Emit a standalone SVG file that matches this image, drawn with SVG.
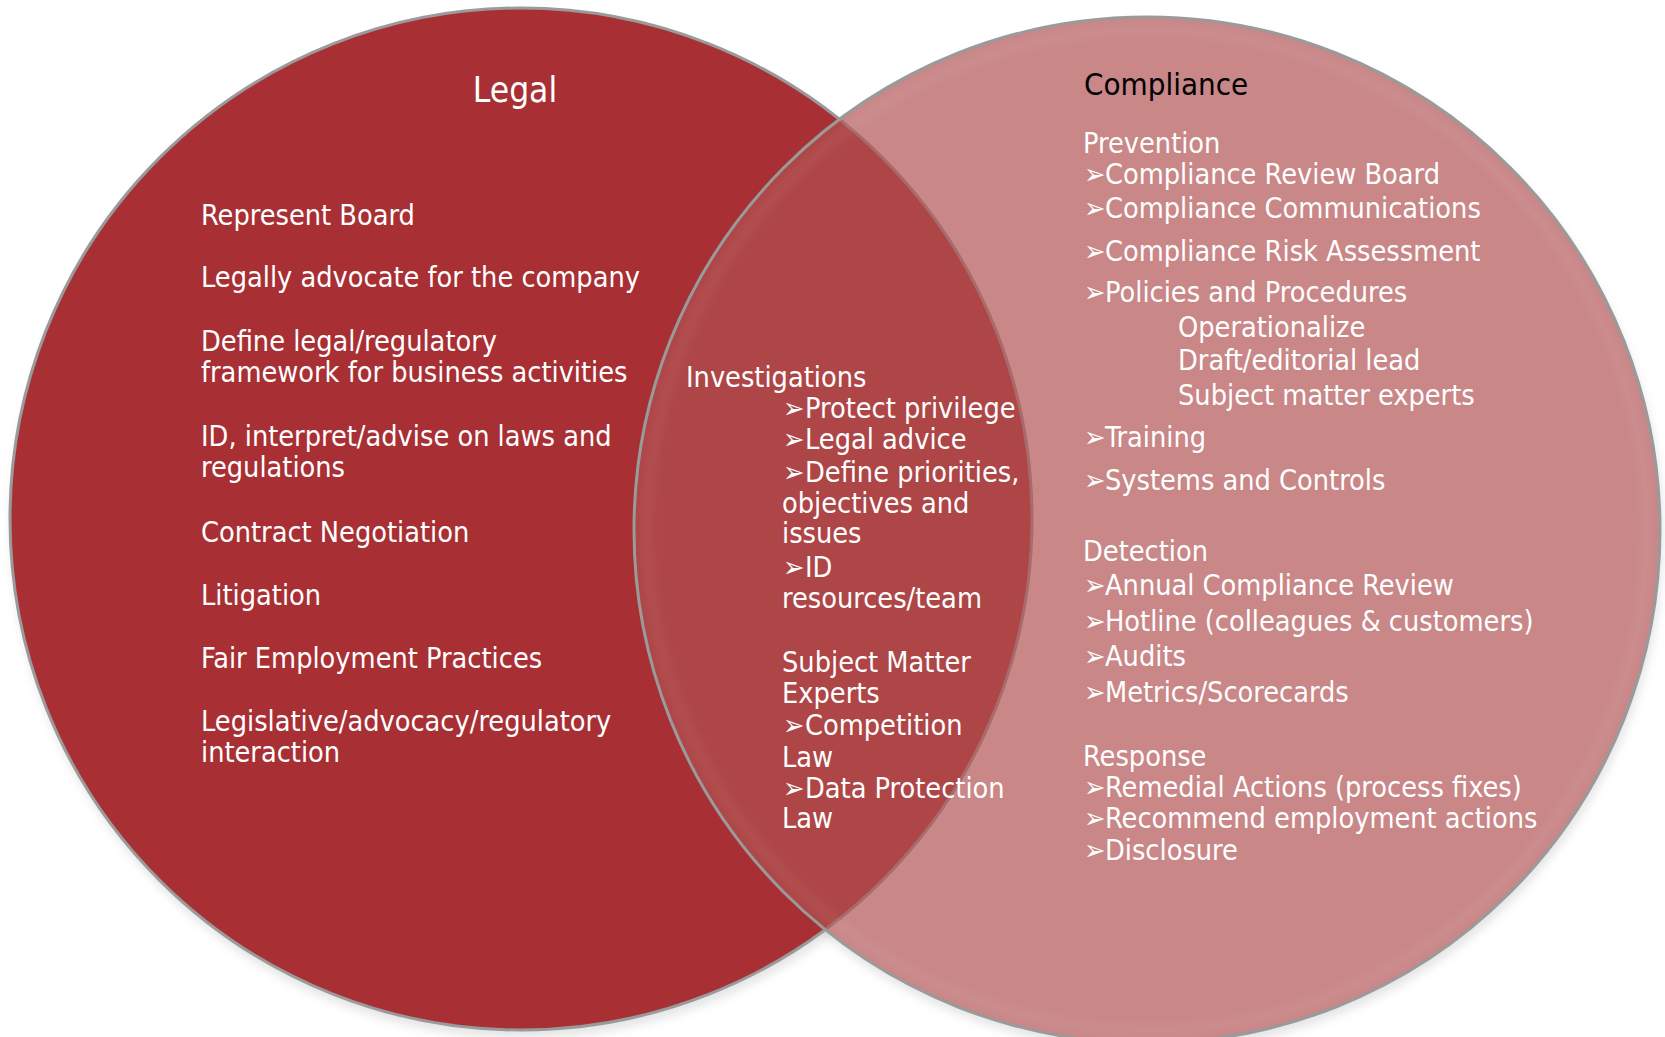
<svg xmlns="http://www.w3.org/2000/svg" width="1665" height="1037" viewBox="0 0 1665 1037">
<style>
text{font-family:"DejaVu Sans Condensed","DejaVu Sans",sans-serif;font-stretch:condensed;font-size:28.6px;fill:#ffffff}
.title{font-size:35px}
.ctitle{font-size:31px;fill:#000000}
</style>
<defs>
<filter id="blur" x="-10%" y="-10%" width="120%" height="120%"><feGaussianBlur stdDeviation="5"/></filter>
<clipPath id="clipL"><circle cx="521" cy="519" r="511"/></clipPath>
<clipPath id="clipR"><circle cx="1147" cy="530" r="513"/></clipPath>
</defs>
<rect width="1665" height="1037" fill="#ffffff"/>
<g id="shadows" filter="url(#blur)" fill="#000" fill-opacity="0.1">
<circle cx="523" cy="526" r="512"/>
<circle cx="1149" cy="537" r="514"/>
</g>
<g id="legal-circle">
<circle cx="521" cy="519" r="511" fill="#A83034" stroke="#9A9A9A" stroke-width="3"/>
</g>
<g id="compliance-circle">
<circle cx="1147" cy="530" r="513" fill="#C98788"/>
<circle cx="1147" cy="530" r="513" fill="#AE4647" clip-path="url(#clipL)"/>
<circle cx="521" cy="519" r="511" fill="none" stroke="#A86A6B" stroke-width="3" clip-path="url(#clipR)"/>
<circle cx="1147" cy="530" r="500" fill="none" stroke="#ffffff" stroke-opacity="0.12" stroke-width="4" filter="url(#blur)"/>
<circle cx="1147" cy="530" r="513" fill="none" stroke="#9A9A9A" stroke-width="3"/>
</g>
<g id="legal-text">
<text class="title" x="515" y="102" text-anchor="middle">Legal</text>
<text x="201" y="225">Represent Board</text>
<text x="201" y="287">Legally advocate for the company</text>
<text x="201" y="351">Define legal/regulatory</text>
<text x="201" y="382">framework for business activities</text>
<text x="201" y="446">ID, interpret/advise on laws and</text>
<text x="201" y="477">regulations</text>
<text x="201" y="542">Contract Negotiation</text>
<text x="201" y="605">Litigation</text>
<text x="201" y="668">Fair Employment Practices</text>
<text x="201" y="731">Legislative/advocacy/regulatory</text>
<text x="201" y="762">interaction</text>
</g>
<g id="overlap-text">
<text x="686" y="387">Investigations</text>
<text y="418"><tspan x="783">➢</tspan><tspan x="805">Protect privilege</tspan></text>
<text y="449"><tspan x="783">➢</tspan><tspan x="805">Legal advice</tspan></text>
<text y="482"><tspan x="783">➢</tspan><tspan x="805">Define priorities,</tspan></text>
<text x="782" y="513">objectives and</text>
<text x="782" y="543">issues</text>
<text y="577"><tspan x="783">➢</tspan><tspan x="805">ID</tspan></text>
<text x="782" y="608">resources/team</text>
<text x="782" y="672">Subject Matter</text>
<text x="782" y="703">Experts</text>
<text y="735"><tspan x="783">➢</tspan><tspan x="805">Competition</tspan></text>
<text x="782" y="767">Law</text>
<text y="798"><tspan x="783">➢</tspan><tspan x="805">Data Protection</tspan></text>
<text x="782" y="828">Law</text>
</g>
<g id="compliance-text">
<text class="ctitle" x="1084" y="95">Compliance</text>
<text x="1083" y="153">Prevention</text>
<text y="184"><tspan x="1084">➢</tspan><tspan x="1105">Compliance Review Board</tspan></text>
<text y="218"><tspan x="1084">➢</tspan><tspan x="1105">Compliance Communications</tspan></text>
<text y="261"><tspan x="1084">➢</tspan><tspan x="1105">Compliance Risk Assessment</tspan></text>
<text y="302"><tspan x="1084">➢</tspan><tspan x="1105">Policies and Procedures</tspan></text>
<text x="1178" y="337">Operationalize</text>
<text x="1178" y="370">Draft/editorial lead</text>
<text x="1178" y="405">Subject matter experts</text>
<text y="447"><tspan x="1084">➢</tspan><tspan x="1105">Training</tspan></text>
<text y="490"><tspan x="1084">➢</tspan><tspan x="1105">Systems and Controls</tspan></text>
<text x="1083" y="561">Detection</text>
<text y="595"><tspan x="1084">➢</tspan><tspan x="1105">Annual Compliance Review</tspan></text>
<text y="631"><tspan x="1084">➢</tspan><tspan x="1105">Hotline (colleagues &amp; customers)</tspan></text>
<text y="666"><tspan x="1084">➢</tspan><tspan x="1105">Audits</tspan></text>
<text y="702"><tspan x="1084">➢</tspan><tspan x="1105">Metrics/Scorecards</tspan></text>
<text x="1083" y="766">Response</text>
<text y="797"><tspan x="1084">➢</tspan><tspan x="1105">Remedial Actions (process fixes)</tspan></text>
<text y="828"><tspan x="1084">➢</tspan><tspan x="1105">Recommend employment actions</tspan></text>
<text y="860"><tspan x="1084">➢</tspan><tspan x="1105">Disclosure</tspan></text>
</g>
</svg>
